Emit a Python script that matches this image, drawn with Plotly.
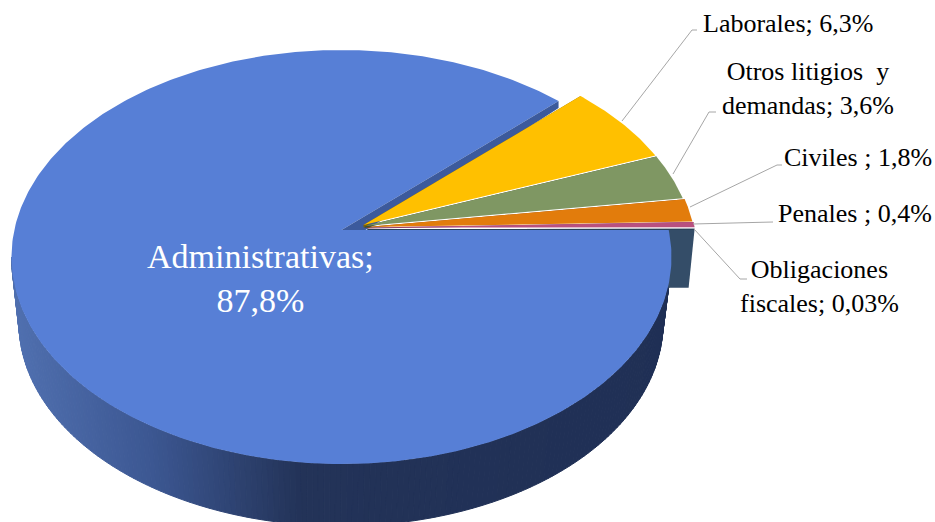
import numpy as np
import plotly.graph_objects as go

# ---- data ----
categories = ["Administrativas", "Laborales", "Otros litigios  y demandas", "Civiles ", "Penales ", "Obligaciones fiscales"]
values = [87.8, 6.3, 3.6, 1.8, 0.4, 0.03]
value_labels = ["87,8%", "6,3%", "3,6%", "1,8%", "0,4%", "0,03%"]

# ---- styling / geometry ----
W, H = 935, 522
colors = ["#577FD6", "#FFC000", "#7F9763", "#E27C0C", "#B8507F", "#344D68"]
edge_colors = [None, "#7F6000", "#3F4F30", "#8B4A10", "#7A3558", "#2A3F55"]
offsets = [(0, 0), (22, -5), (23, -4), (25, -3), (26, -2.5), (26, -1)]
walls = [0, 2.5, 2, 1, 1, 1]
CX, CY, RX, RY = 341.5, 257, 330, 207
CX2, CY2, RX2, RY2 = 341, 323, 322, 203
TILT = 0.13
FACE_START = 0.0


def project(theta_deg):
    """Disc point at the given angle to screen, with a perspective tilt."""
    th = np.radians(theta_deg)
    u, v = np.cos(th), np.sin(th)
    d = 1 + TILT * v
    X = u * np.sqrt(1 - TILT ** 2) / d
    Y = (v + TILT) / d
    return CX + RX * X, CY - RY * Y


APEX = (CX, CY - RY * TILT)
total = sum(values)
angles = [FACE_START]
for val in values:
    angles.append(angles[-1] - 360.0 * val / total)
edges = [(angles[i], angles[i + 1]) for i in range(len(values))]

fig = go.Figure()


def poly(x, y, fill, line=None, width=0):
    fig.add_trace(go.Scatter(
        x=list(x), y=list(y), mode="lines", fill="toself", fillcolor=fill,
        line=dict(color=line or fill, width=width), hoverinfo="skip", showlegend=False))


def hexmix(stops, x):
    xs = [s[0] for s in stops]
    rgb = [np.interp(x, xs, [int(s[1][i:i + 2], 16) for s in stops]) for i in (1, 3, 5)]
    return "rgb(%d,%d,%d)" % tuple(int(round(c)) for c in rgb)


GRAD = [(11, "#5070B0"), (150, "#3C5792"), (300, "#233358"), (700, "#1F2F55")]

# side wall of the large slice, as thin strips following the gradient
STEP = 1.0
for t in np.arange(180, 360, STEP):
    a = np.radians([t, t + STEP])
    xt = CX + RX * np.cos(a)
    yt = CY - RY * np.sin(a)
    xb = CX2 + RX2 * np.cos(a)
    yb = CY2 - RY2 * np.sin(a)
    c = hexmix(GRAD, float(xt.mean()))
    poly([xt[0], xt[1], xb[1], xb[0], xt[0]], [yt[0], yt[1], yb[1], yb[0], yt[0]], c, c, 1)

# radial cut wall of the exploded group, seen right of the large slice
ox, oy = offsets[5]
ax, ay = APEX[0] + ox, APEX[1] + oy
px, py = project(angles[5])
px += ox
py += oy
poly([ax, px, px - 6, ax, ax], [ay, py, py + 59, py + 59, ay], colors[5])

# top face of the large slice
th0 = np.linspace(edges[0][0], edges[0][1], 400)
fx, fy = project(th0)
poly([APEX[0], *fx, APEX[0]], [APEX[1], *fy, APEX[1]], colors[0])

# cut wall of the large slice at its end, running back to the exploded apex
ex, ey = project(edges[0][1])
lx0, ly0 = APEX[0] + offsets[1][0], APEX[1] + offsets[1][1]
poly([APEX[0], ex, ex, lx0 + 60, lx0 + 2, APEX[0]],
     [APEX[1], ey, ey + 7, ly0 - 30, APEX[1], APEX[1]], "#3C5A9C")

# exploded slices
for i in range(5, 0, -1):
    a0, a1 = edges[i]
    ox, oy = offsets[i]
    ax, ay = APEX[0] + ox, APEX[1] + oy
    th = np.linspace(a1, a0, 40)
    x, y = project(th)
    x = x + ox
    y = y + oy
    # thin visible wall below the slice's lower edge
    x_low, y_low = project(a0)
    poly([ax, x_low + ox, x_low + ox, ax, ax],
         [ay, y_low + oy, y_low + oy + walls[i], ay + walls[i], ay], edge_colors[i])
    poly([ax, *x, ax], [ay, *y, ay], colors[i])

# leader lines
GREY = "#A6A6A6"
leaders = [
    ([622, 692, 697], [121, 30, 30]),
    ([673, 709, 716], [174, 112, 112]),
    ([690, 777, 782], [207, 165, 165]),
    ([693, 773], [224, 222]),
    ([694, 740, 747], [229, 279, 279]),
]
for lx, ly in leaders:
    fig.add_trace(go.Scatter(x=lx, y=ly, mode="lines", line=dict(color=GREY, width=1),
                             hoverinfo="skip", showlegend=False))

FONT = "Liberation Serif, Times New Roman, serif"


def label(x, y, text, color="#000000", size=26):
    fig.add_annotation(x=x, y=y, xref="x", yref="y", text=text, showarrow=False,
                       xanchor="center", yanchor="middle", align="center",
                       font=dict(family=FONT, size=size, color=color))


NB = "\u00a0"
label(260.5, 278, f"{categories[0]};<br>{value_labels[0]}", "#FFFFFF", 34)
label(788, 23.5, f"{categories[1]}; {value_labels[1]}")
label(808, 88, f"Otros litigios{NB}{NB}y<br>demandas; {value_labels[2]}")
label(858, 157, f"Civiles{NB}; {value_labels[3]}")
label(855, 213, f"Penales{NB}; {value_labels[4]}")
label(819, 286, f"Obligaciones<br>fiscales; {value_labels[5]}")

fig.update_layout(
    width=W, height=H, margin=dict(l=0, r=0, t=0, b=0),
    paper_bgcolor="#FFFFFF", plot_bgcolor="#FFFFFF", showlegend=False,
    xaxis=dict(range=[0, W], visible=False, fixedrange=True),
    yaxis=dict(range=[H, 0], visible=False, fixedrange=True),
)
fig.write_html("out.html", config={"displayModeBar": False},
               post_script="document.body.style.margin='0';document.body.style.overflow='hidden';")
